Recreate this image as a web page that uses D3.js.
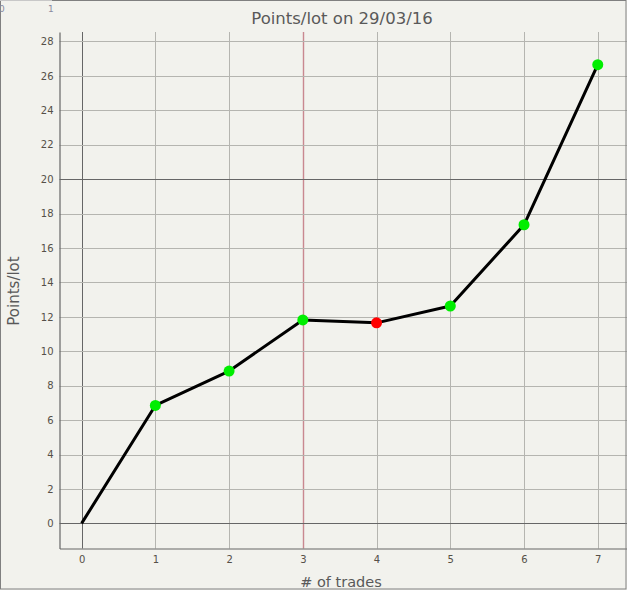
<!DOCTYPE html>
<html>
<head>
<meta charset="utf-8">
<script src="https://cdn.jsdelivr.net/npm/d3@7"></script>
<style>
  html, body { margin: 0; padding: 0; background: #f2f2ed; }
  svg { display: block; }
</style>
</head>
<body>
<svg id="chart"></svg>
<script>
// data
const trades = [0, 1, 2, 3, 4, 5, 6, 7];
const pointsPerLot = [0, 6.85, 8.85, 11.82, 11.65, 12.63, 17.35, 26.65];
const pointColor = [null, 'green', 'green', 'green', 'red', 'green', 'green', 'green'];
const xTicks = [0, 1, 2, 3, 4, 5, 6, 7];
const yTicks = [0, 2, 4, 6, 8, 10, 12, 14, 16, 18, 20, 22, 24, 26, 28];
const darkY = [0, 20];
const darkX = [0];
const markX = [3];

const cfg = {
  W: 627,
  H: 590,
  left: 59.5,
  top: 32,
  bottom: 548.5,
  right: 628,
  bg: '#f2f2ed',
  gridLight: '#b5b5b0',
  gridDark: '#666666',
  textColor: '#595959',
  font: '"DejaVu Sans", Verdana, sans-serif',
};

const svg = d3.select('#chart')
  .attr('width', cfg.W)
  .attr('height', cfg.H);

svg.append('rect')
  .attr('width', cfg.W)
  .attr('height', cfg.H)
  .attr('fill', cfg.bg);

// scales
const x = d3.scaleLinear().domain([-0.3, 7.41]).range([cfg.left, cfg.right]);
const y = d3.scaleLinear().domain([-1.46, 28.55]).range([cfg.bottom, cfg.top]);

const grid = svg.append('g');

// vertical grid
grid.selectAll('.vgrid')
  .data(xTicks)
  .enter()
  .append('line')
  .attr('x1', d => Math.round(x(d)) + 0.5)
  .attr('x2', d => Math.round(x(d)) + 0.5)
  .attr('y1', cfg.top)
  .attr('y2', cfg.bottom)
  .attr('stroke', d => darkX.indexOf(d) >= 0 ? cfg.gridDark : (markX.indexOf(d) >= 0 ? '#c98890' : cfg.gridLight))
  .attr('stroke-width', d => markX.indexOf(d) >= 0 ? 1.4 : 1);

// horizontal grid
grid.selectAll('.hgrid')
  .data(yTicks)
  .enter()
  .append('line')
  .attr('x1', cfg.left)
  .attr('x2', cfg.right)
  .attr('y1', d => Math.round(y(d)) + 0.5)
  .attr('y2', d => Math.round(y(d)) + 0.5)
  .attr('stroke', d => darkY.indexOf(d) >= 0 ? cfg.gridDark : cfg.gridLight)
  .attr('stroke-width', 1);

// axes
const xAxis = svg.append('g')
  .attr('transform', 'translate(0,' + cfg.bottom + ')')
  .call(d3.axisBottom(x).tickValues(xTicks).tickSize(0).tickPadding(7));
const yAxis = svg.append('g')
  .attr('transform', 'translate(' + cfg.left + ',0)')
  .call(d3.axisLeft(y).tickValues(yTicks).tickSize(0).tickPadding(6));

[xAxis, yAxis].forEach(a => {
  a.select('.domain').attr('stroke', cfg.gridDark).attr('stroke-width', 1.2);
  a.selectAll('.tick text')
    .attr('fill', '#555048')
    .style('font-family', cfg.font)
    .style('font-size', '10px');
});

// line
const line = d3.line()
  .x((d, i) => x(trades[i]))
  .y(d => y(d));

svg.append('path')
  .datum(pointsPerLot)
  .attr('d', line)
  .attr('fill', 'none')
  .attr('stroke', '#000')
  .attr('stroke-width', 3)
  .attr('stroke-linejoin', 'round');

// markers
svg.selectAll('.pt')
  .data(pointsPerLot.map((v, i) => ({ t: trades[i], v: v, c: pointColor[i] })).filter(d => d.c))
  .enter()
  .append('circle')
  .attr('cx', d => x(d.t))
  .attr('cy', d => y(d.v))
  .attr('r', 5.5)
  .attr('fill', d => d.c === 'red' ? '#ff0000' : '#00ee00');

// title
svg.append('text')
  .text('Points/lot on 29/03/16')
  .attr('x', 342)
  .attr('y', 24)
  .attr('text-anchor', 'middle')
  .attr('fill', cfg.textColor)
  .style('font-family', cfg.font)
  .style('font-size', '16.5px');

// axis labels
svg.append('text')
  .text('# of trades')
  .attr('x', 341)
  .attr('y', 587)
  .attr('text-anchor', 'middle')
  .attr('fill', cfg.textColor)
  .style('font-family', cfg.font)
  .style('font-size', '14.5px');

svg.append('text')
  .text('Points/lot')
  .attr('transform', 'translate(19,291) rotate(-90)')
  .attr('text-anchor', 'middle')
  .attr('fill', cfg.textColor)
  .style('font-family', cfg.font)
  .style('font-size', '15px');

// frame
svg.append('rect')
  .attr('x', 0.5)
  .attr('y', 0.5)
  .attr('width', cfg.W - 1.5)
  .attr('height', cfg.H - 1.5)
  .attr('fill', 'none')
  .attr('stroke', '#808080');
svg.append('line')
  .attr('x1', 0).attr('x2', 52)
  .attr('y1', 0.5).attr('y2', 0.5)
  .attr('stroke', '#c8c8c8');

// little ruler in the corner
svg.append('text').text('0').attr('x', -1).attr('y', 12)
  .attr('fill', '#8a8aa0').style('font-family', cfg.font).style('font-size', '9px');
svg.append('text').text('1').attr('x', 48).attr('y', 12)
  .attr('fill', '#8a8aa0').style('font-family', cfg.font).style('font-size', '9px');
</script>
</body>
</html>
